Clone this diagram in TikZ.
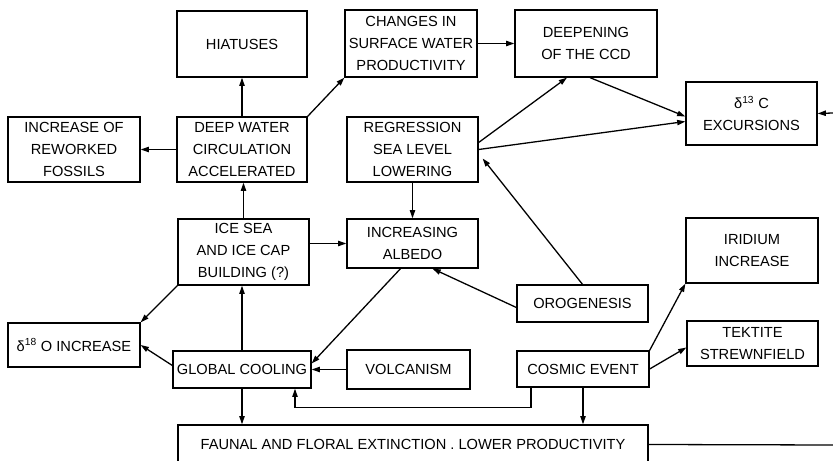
\documentclass[tikz,border=0pt]{standalone}
\usepackage{fontspec}
\setmainfont{Liberation Sans}
\usetikzlibrary{fit,calc,arrows.meta}
\begin{document}
\begin{tikzpicture}[x=0.03cm,y=-0.03cm,line width=1.1pt,
    font=\fontsize{12.5}{19}\selectfont,
    box/.style={draw,inner sep=0pt},
    >={Triangle[length=7pt,width=4.5pt]}]
  \useasboundingbox (0,0) rectangle (833,461);
  % boxes: name / top left / bottom right / text
  \foreach \n/\a/\b/\t in {hiat/{177,11}/{307,77}/HIATUSES,
      chng/{345,10}/{477,77}/{CHANGES IN\\SURFACE WATER\\PRODUCTIVITY},
      ccd/{515,10}/{657,77}/{DEEPENING\\OF THE CCD},
      carb/{686,82}/{817,145}/{δ\textsuperscript{13} C\\EXCURSIONS},
      foss/{8,117}/{140,182}/{INCREASE OF\\REWORKED\\FOSSILS},
      deep/{177,117}/{307,182}/{DEEP WATER\\CIRCULATION\\ACCELERATED},
      regr/{347,117}/{478,182}/{REGRESSION\\SEA LEVEL\\LOWERING},
      ice/{178,219}/{309,285}/{ICE SEA\\AND ICE CAP\\BUILDING (?)},
      albd/{347,219}/{478,268}/{INCREASING\\ALBEDO},
      irid/{686,218}/{818,283}/{IRIDIUM\\INCREASE},
      orog/{517,285}/{648,322}/OROGENESIS,
      oxy/{8,323}/{140,367}/{δ\textsuperscript{18} O INCREASE},
      tekt/{687,321}/{818,366}/{TEKTITE\\STREWNFIELD},
      cool/{173,351}/{311,388}/GLOBAL COOLING,
      volc/{347,350}/{470,389}/VOLCANISM,
      cosm/{517,351}/{649,387}/COSMIC EVENT,
      faun/{178,425}/{648,464}/{FAUNAL AND FLORAL EXTINCTION . LOWER PRODUCTIVITY}}{
    \node[box,fit={(\a) (\b)},label={[align=center]center:\t}] (\n) {};
  }
  \coordinate (rin) at (833,113);
  \coordinate (rout) at (833,445);
  % upper part
  \draw[->] (deep.north) -- (hiat.south);
  \draw[->] (deep.north east) -- (chng.south west);
  \draw[->] (deep.west) -- (foss.east);
  \draw[->] (ice.north) -- (ice.north |- deep.south);
  \draw[->] (chng.east) -- (ccd.west);
  \draw[->] ($(regr.east)+(0,-7)$) -- ($(ccd.south)+(-19,0)$);
  \draw[->] ($(ccd.south)+(4,0)$) -- ($(carb.west)+(0,3)$);
  \draw[->] (regr.east) -- ($(carb.west)+(0,8)$);
  \draw[->] (rin) -- (carb.east);
  \draw[->] (regr.south) -- (albd.north);
  \draw[->] (orog.north) -- ($(regr.east)+(4,9)$);
  \draw[->] ($(orog.west)+(0,4)$) -- ($(albd.south)+(20,0)$);
  \draw[->] (ice.east |- albd.west) -- (albd.west);
  % lower part
  \draw[->] (ice.south west) -- (oxy.north east);
  \draw[->] ($(cool.west)+(0,-4)$) -- (oxy.east);
  \draw[->] (cool.north) -- (cool.north |- ice.south);
  \draw[->] ($(albd.south)+(-12,0)$) -- ($(cool.east)+(0,-6)$);
  \draw[->] (volc.west) -- (volc.west -| cool.east);
  \draw[->] ($(cosm.south)+(-52,0)$) |- ($(cool.south)+(53,19)$) -- ($(cool.south)+(53,0)$);
  \draw[->] (cool.south) -- (cool.south |- faun.north);
  \draw[->] (cosm.south) -- (cosm.south |- faun.north);
  \draw[->] (cosm.north east) -- (irid.south west);
  \draw[->] (cosm.east) -- ($(tekt.west)+(0,4)$);
  \draw (faun.east) -- (rout);
\end{tikzpicture}
\end{document}
